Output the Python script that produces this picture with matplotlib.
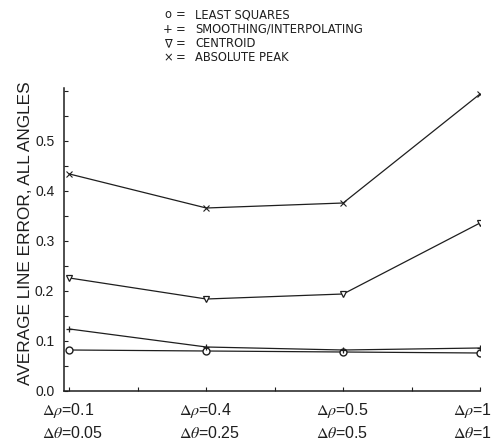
import matplotlib
matplotlib.use("Agg")
import matplotlib.pyplot as plt
from matplotlib.ticker import MultipleLocator
import matplotlib.transforms as mtransforms

plt.rcParams['font.family'] = ['Liberation Sans', 'DejaVu Sans']
plt.rcParams['mathtext.fontset'] = 'stix'

# Parameter settings along the x axis
rho_steps = ["0.1", "0.4", "0.5", "1"]
theta_steps = ["0.05", "0.25", "0.5", "1"]

# Average line error for each estimation method
least_squares = [0.082, 0.080, 0.078, 0.076]
smoothing = [0.124, 0.088, 0.082, 0.086]
centroid = [0.226, 0.184, 0.194, 0.336]
absolute_peak = [0.434, 0.366, 0.376, 0.594]

legend_lines = [
    ("o", "LEAST SQUARES"),
    ("+", "SMOOTHING/INTERPOLATING"),
    ("\u2207", "CENTROID"),
    ("\u00d7", "ABSOLUTE PEAK"),
]

ink = "#1e1e1e"
W, H = 494, 445

fig = plt.figure(figsize=(W / 100, H / 100), dpi=100)
ax = fig.add_axes([64 / W, 54 / H, 416 / W, 303 / H])

x = list(range(len(rho_steps)))
ax.plot(x, least_squares, color=ink, lw=0.9, marker="o", ms=5,
        mfc="white", mec=ink, mew=1.0)
ax.plot(x, smoothing, color=ink, lw=0.9, marker="+", ms=5, mew=0.9)
ax.plot(x, centroid, color=ink, lw=0.9, marker="v", ms=5,
        mfc="white", mec=ink, mew=0.9)
ax.plot(x, absolute_peak, color=ink, lw=0.9, marker="x", ms=4, mew=0.8)

ax.set_xlim(-0.04, 3.0)
ax.set_ylim(0, 0.606)
for side in ("top", "right"):
    ax.spines[side].set_visible(False)
for side in ("left", "bottom"):
    ax.spines[side].set_color(ink)
    ax.spines[side].set_linewidth(1.1)

ax.set_yticks([0.0, 0.1, 0.2, 0.3, 0.4, 0.5])
ax.set_yticklabels(["0.0", "0.1", "0.2", "0.3", "0.4", "0.5"],
                   fontsize=10, color=ink)
ax.yaxis.set_minor_locator(MultipleLocator(0.05))
ax.tick_params(axis="y", which="both", direction="in", length=3,
               width=0.8, colors=ink, pad=7)
ax.xaxis.set_major_locator(MultipleLocator(0.5))
ax.tick_params(axis="x", which="both", direction="in", length=3,
               width=0.8, colors=ink, labelbottom=False)

ax.set_ylabel("AVERAGE LINE ERROR, ALL ANGLES", fontsize=12.4, color=ink)
ax.yaxis.set_label_coords(-0.0745, 0.52)

# Two-line parameter labels under each column
trans = mtransforms.blended_transform_factory(ax.transData, fig.transFigure)
for xi, r, t in zip(x, rho_steps, theta_steps):
    ax.text(xi - 0.2, 1 - 411 / H, r"$\Delta\rho$=" + r, transform=trans,
            ha="left", va="center", fontsize=11.5, color=ink, clip_on=False)
    ax.text(xi - 0.2, 1 - 433 / H, r"$\Delta\theta$=" + t, transform=trans,
            ha="left", va="center", fontsize=11.5, color=ink, clip_on=False)

# Symbol key above the plot
for i, (sym, name) in enumerate(legend_lines):
    yy = 1 - (15 + 14.3 * i) / H
    fig.text(168 / W, yy, sym, ha="center", va="center",
             fontsize=8.3, color=ink, family=["DejaVu Sans"])
    fig.text(181 / W, yy, "=", ha="center", va="center",
             fontsize=8.3, color=ink, family=["DejaVu Sans"])
    fig.text(195 / W, yy, name, ha="left", va="center",
             fontsize=8.3, color=ink, family=["DejaVu Sans"])

fig.savefig("out.png", dpi=100)
